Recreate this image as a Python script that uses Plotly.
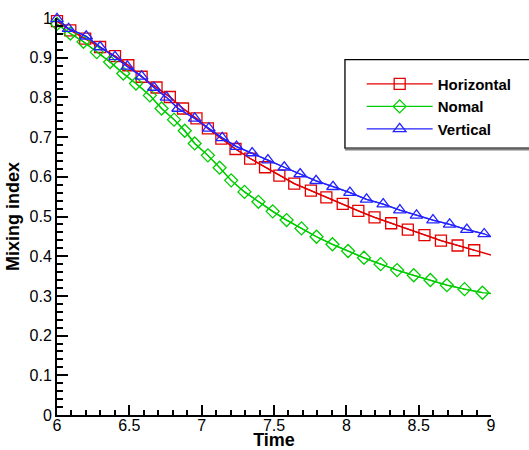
import plotly.graph_objects as go

# ---- data ----
red_t = [6.000, 6.092, 6.195, 6.298, 6.401, 6.493, 6.585, 6.688, 6.780, 6.871,
         6.964, 7.043, 7.136, 7.234, 7.335, 7.438, 7.537, 7.640, 7.755, 7.862,
         7.975, 8.083, 8.195, 8.310, 8.425, 8.540, 8.654, 8.769, 8.884, 9.000]
red_y = [0.992, 0.969, 0.948, 0.927, 0.904, 0.881, 0.852, 0.825, 0.801, 0.772,
         0.747, 0.722, 0.696, 0.670, 0.646, 0.624, 0.603, 0.583, 0.565, 0.548,
         0.532, 0.514, 0.498, 0.483, 0.467, 0.453, 0.439, 0.427, 0.415, 0.403]

green_t = [6.000, 6.092, 6.183, 6.275, 6.367, 6.458, 6.546, 6.642, 6.723, 6.809,
           6.883, 6.952, 7.043, 7.124, 7.204, 7.296, 7.392, 7.491, 7.587, 7.690,
           7.794, 7.904, 8.012, 8.122, 8.237, 8.351, 8.466, 8.581, 8.695, 8.817,
           8.941, 9.000]
green_y = [0.985, 0.961, 0.940, 0.914, 0.889, 0.860, 0.835, 0.805, 0.772, 0.744,
           0.716, 0.684, 0.654, 0.623, 0.591, 0.562, 0.537, 0.513, 0.491, 0.470,
           0.449, 0.430, 0.413, 0.396, 0.380, 0.365, 0.352, 0.340, 0.327, 0.317,
           0.308, 0.306]

blue_t = [6.000, 6.080, 6.202, 6.298, 6.401, 6.486, 6.585, 6.670, 6.757, 6.837,
          6.952, 7.050, 7.142, 7.241, 7.349, 7.458, 7.571, 7.681, 7.791, 7.908,
          8.025, 8.140, 8.255, 8.370, 8.485, 8.599, 8.714, 8.833, 8.953, 9.000]
blue_y = [0.998, 0.973, 0.954, 0.927, 0.902, 0.878, 0.853, 0.825, 0.800, 0.772,
          0.747, 0.722, 0.698, 0.676, 0.660, 0.642, 0.624, 0.607, 0.590, 0.575,
          0.560, 0.543, 0.531, 0.516, 0.503, 0.491, 0.480, 0.467, 0.456, 0.449]

series = [
    ("Horizontal", red_t, red_y, "rgb(228,0,0)", "square-open", 11),
    ("Nomal", green_t, green_y, "rgb(0,205,0)", "diamond-open", 10),
    ("Vertical", blue_t, blue_y, "rgb(35,35,255)", "triangle-up-open", 11),
]

fig = go.Figure()
for name, t, y, col, sym, sz in series:
    # full curve (line only)
    fig.add_trace(go.Scatter(x=t, y=y, mode="lines", line=dict(color=col, width=1.3),
                             showlegend=False, hoverinfo="skip"))
    # symbols (all points but the curve end)
    fig.add_trace(go.Scatter(x=t[:-1], y=y[:-1], mode="lines+markers",
                             name="<b>" + name + "</b>",
                             line=dict(color=col, width=1.3),
                             marker=dict(symbol=sym, size=sz, color=col,
                                         line=dict(color=col, width=1.3)),
                             cliponaxis=False))

axis_font = dict(family="Liberation Sans, Arial, sans-serif", size=16, color="black")
title_font = dict(family="Liberation Sans, Arial, sans-serif", size=18, color="black")

fig.update_xaxes(range=[6, 9], tickmode="linear", tick0=6, dtick=0.5,
                 ticks="inside", ticklen=10, tickwidth=2, tickcolor="black",
                 minor=dict(ticks="inside", ticklen=5, tickwidth=1.5, tickcolor="black",
                            dtick=0.1, tick0=6, showgrid=False),
                 showline=True, linecolor="black", linewidth=2, mirror=False,
                 showgrid=False, zeroline=False, tickfont=axis_font, automargin=False,
                 ticklabelstandoff=-5,
                 title=dict(text="<b>Time</b>", font=title_font, standoff=11))
fig.update_yaxes(range=[0, 1], tickmode="linear", tick0=0, dtick=0.1,
                 ticks="inside", ticklen=11, tickwidth=2, tickcolor="black",
                 minor=dict(ticks="inside", ticklen=6, tickwidth=1.5, tickcolor="black",
                            dtick=0.02, tick0=0, showgrid=False),
                 showline=True, linecolor="black", linewidth=2, mirror=False,
                 showgrid=False, zeroline=False, tickfont=axis_font, automargin=False,
                 ticklabelstandoff=0,
                 title=dict(text="<b>Mixing index</b>", font=title_font, standoff=5))

# legend frame
fig.add_shape(type="rect", xref="paper", yref="paper", x0=0.6635, x1=1.12,
              y0=0.672, y1=0.895, line=dict(color="black", width=1.3),
              fillcolor="white", layer="below")
fig.add_shape(type="line", xref="paper", yref="paper", x0=0.6635, x1=1.12,
              y0=0.669, y1=0.669, line=dict(color="gray", width=2))

fig.update_layout(
    width=529, height=450,
    margin=dict(l=57, r=36, t=18, b=35),
    paper_bgcolor="white", plot_bgcolor="white",
    showlegend=True,
    legend=dict(x=0.702, y=0.875, xanchor="left", yanchor="top",
                bgcolor="rgba(0,0,0,0)", borderwidth=0, itemwidth=66,
                font=dict(family="Liberation Sans, Arial, sans-serif", size=15,
                          color="black"),
                tracegroupgap=0),
)
fig.update_layout(font=dict(family="Liberation Sans, Arial, sans-serif"))

fig.write_html("out.html", config={"displayModeBar": False},
               post_script="document.body.style.margin='0';")
